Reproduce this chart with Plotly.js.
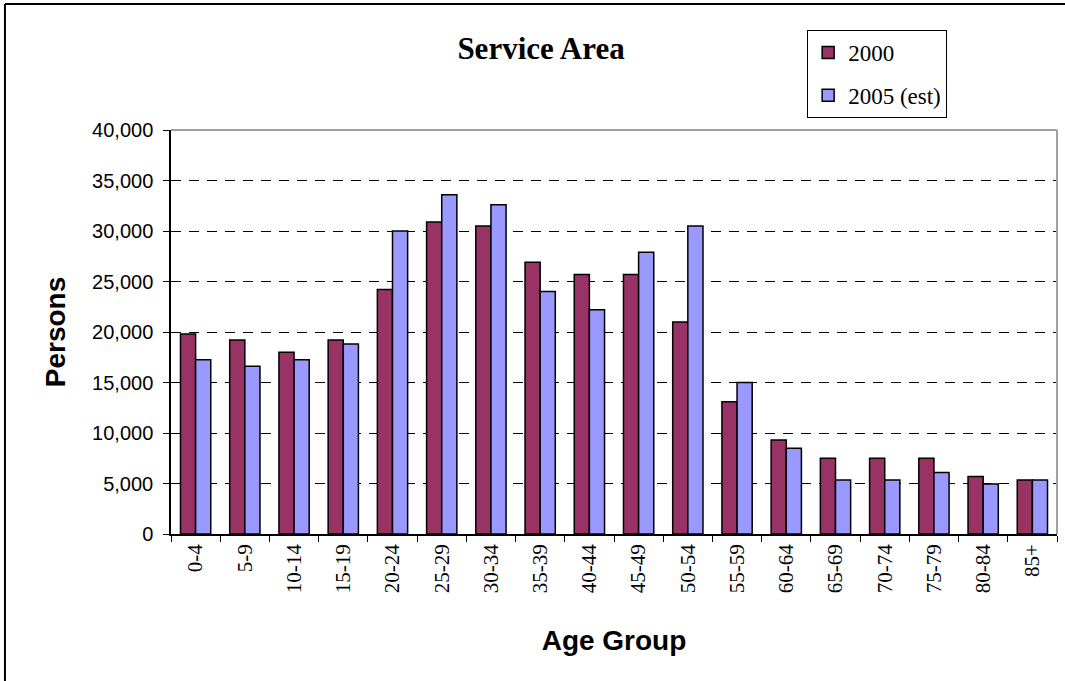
<!DOCTYPE html>
<html>
<head>
<meta charset="utf-8">
<script src="https://cdn.plot.ly/plotly-3.0.1.min.js"></script>
<style>
  html, body { margin: 0; padding: 0; background: #ffffff; }
  #chart { width: 1065px; height: 681px; }
</style>
</head>
<body>
<div id="chart"></div>
<script>
const categories = ['0-4','5-9','10-14','15-19','20-24','25-29','30-34','35-39','40-44','45-49','50-54','55-59','60-64','65-69','70-74','75-79','80-84','85+'];
const values2000 = [19800,19200,18000,19200,24200,30900,30500,26900,25700,25700,21000,13100,9300,7500,7500,7500,5700,5350];
const values2005 = [17250,16600,17250,18800,30000,33600,32600,24000,22200,27900,30500,15000,8500,5350,5350,6100,4950,5350];
const seriesNames = ['2000', '2005 (est)'];
const yTicks = [0,5000,10000,15000,20000,25000,30000,35000,40000];

const serif = 'Liberation Serif, Times New Roman, serif';
const sans = 'Liberation Sans, Arial, sans-serif';

const traces = [
  {
    type: 'bar', x: categories, y: values2000, name: seriesNames[0], legendgroup: 'a',
    marker: { color: '#993366', line: { color: '#000000', width: 1.5 } },
    hoverinfo: 'x+y+name'
  },
  {
    type: 'bar', x: categories, y: values2005, name: seriesNames[1], legendgroup: 'b',
    marker: { color: '#9999FF', line: { color: '#000000', width: 1.5 } },
    hoverinfo: 'x+y+name'
  }
];

const layout = {
  width: 1065, height: 681,
  margin: { l: 171, r: 8, t: 130, b: 147, autoexpand: false },
  paper_bgcolor: '#ffffff', plot_bgcolor: '#ffffff',
  barmode: 'group', bargap: 0.385, bargroupgap: 0,
  title: {
    text: '<b>Service Area</b>',
    font: { family: serif, size: 31, color: '#000000' },
    x: 0.508, xref: 'container', xanchor: 'center',
    y: 1 - 48/681, yref: 'container', yanchor: 'middle'
  },
  showlegend: true,
  legend: {
    x: 0.718, xanchor: 'left', y: 1.2475, yanchor: 'top',
    bgcolor: '#ffffff', bordercolor: '#000000', borderwidth: 1,
    font: { family: serif, size: 23, color: '#000000' },
    tracegroupgap: 10, itemwidth: 30
  },
  xaxis: {
    type: 'category',
    tickangle: -90,
    tickfont: { family: serif, size: 21, color: '#000000' },
    ticks: 'outside', tickson: 'boundaries', ticklen: 6, tickwidth: 1, tickcolor: '#000000',
    showline: true, linecolor: '#000000', linewidth: 1.5,
    showgrid: false, zeroline: false,
    title: { text: '<b>Age Group</b>', font: { family: sans, size: 28, color: '#000000' }, standoff: 38 },
    automargin: false
  },
  yaxis: {
    range: [0, 40000],
    tickvals: yTicks,
    tickformat: ',d',
    tickfont: { family: sans, size: 20, color: '#000000' },
    ticks: 'outside', ticklen: 6, tickwidth: 1, tickcolor: '#000000',
    ticklabelstandoff: 6,
    showline: true, linecolor: '#000000', linewidth: 1.5,
    showgrid: true, gridcolor: '#000000', gridwidth: 1, griddash: '10px,8px',
    zeroline: false,
    title: { text: '<b>Persons</b>', font: { family: sans, size: 28, color: '#000000' }, standoff: 18 },
    automargin: false
  },
  shapes: [
    { type: 'line', xref: 'paper', yref: 'paper', x0: 0, x1: 1, y0: 1, y1: 1, line: { color: '#a0a0a0', width: 2 } },
    { type: 'line', xref: 'paper', yref: 'paper', x0: 1, x1: 1, y0: 0, y1: 1, line: { color: '#a0a0a0', width: 2 } },
    { type: 'line', xref: 'paper', yref: 'paper', x0: -0.1874, x1: 1.02, y0: 1.3119, y1: 1.3119, line: { color: '#000000', width: 2 } },
    { type: 'line', xref: 'paper', yref: 'paper', x0: -0.1874, x1: -0.1874, y0: 1.3119, y1: -0.37, line: { color: '#000000', width: 2 } }
  ]
};

Plotly.newPlot('chart', traces, layout, { displayModeBar: false, responsive: false });
</script>
</body>
</html>
